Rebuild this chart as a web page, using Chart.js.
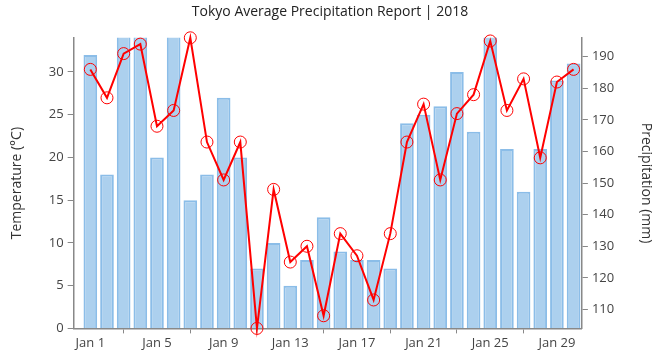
<!DOCTYPE html>
<html>
<head>
<meta charset="utf-8">
<script src="https://cdn.jsdelivr.net/npm/chart.js@4/dist/chart.umd.min.js"></script>
<style>
  html, body { margin: 0; padding: 0; background: #fff; }
  #wrap { width: 664px; height: 359px; }
</style>
</head>
<body>
<div id="wrap"><canvas id="chart"></canvas></div>
<script>
// days of January 2018
const days = [1,2,3,4,5,6,7,8,9,10,11,12,13,14,15,16,17,18,19,20,21,22,23,24,25,26,27,28,29,30];
// temperature (°C), bars on the left axis
const temperature = [32,18,36,35,20,37,15,18,27,20,7,10,5,8,13,9,8,8,7,24,25,26,30,23,36,21,16,21,29,31];
// precipitation (mm), line on the right axis
const precipitation = [186,177,191,194,168,173,196,163,151,163,104,148,125,130,108,134,127,113,134,163,175,151,172,178,195,173,183,158,182,186];
const tickDays = [1,5,9,13,17,21,25,29];

const font = "'Open Sans', 'Noto Sans', sans-serif";
const ctx = document.getElementById('chart');

const chart = new Chart(ctx, {
  data: {
    datasets: [{
      type: 'line',
      label: 'Precipitation',
      data: days.map((d, i) => ({x: d, y: precipitation[i]})),
      yAxisID: 'y2',
      borderColor: '#ff0000',
      borderWidth: 2,
      tension: 0,
      pointRadius: 6,
      pointHoverRadius: 6,
      pointBorderWidth: 1,
      pointBorderColor: '#ff0000',
      pointBackgroundColor: 'rgba(255,255,255,0)',
      clip: false,
      order: 0
    }, {
      type: 'bar',
      label: 'Temperature',
      data: days.map((d, i) => ({x: d, y: temperature[i]})),
      yAxisID: 'y',
      backgroundColor: '#acd0ee',
      borderColor: '#8bbde8',
      borderWidth: 2,
      barPercentage: 0.82,
      categoryPercentage: 1.0,
      order: 1
    }]
  },
  options: {
    responsive: true,
    maintainAspectRatio: false,
    animation: false,
    layout: { padding: { left: 4, right: 8, top: 0, bottom: 6 } },
    plugins: {
      legend: { display: false },
      tooltip: { enabled: false },
      title: {
        display: true,
        text: 'Tokyo Average Precipitation Report | 2018',
        color: '#222',
        font: { family: font, size: 14, weight: 'normal' },
        padding: { top: 4, bottom: 17 }
      }
    },
    scales: {
      x: {
        type: 'linear',
        min: 0,
        max: 30.5,
        offset: false,
        afterBuildTicks: (scale) => { scale.ticks = tickDays.map(v => ({value: v})); },
        ticks: {
          color: '#444',
          font: { family: font, size: 13 },
          callback: (v) => 'Jan ' + v,
          maxRotation: 0,
          autoSkip: false,
          padding: 2
        },
        grid: { drawOnChartArea: false, drawTicks: true, tickLength: 5, color: '#888' },
        border: { color: '#888', width: 1.5 }
      },
      y: {
        position: 'left',
        min: 0,
        max: 34,
        ticks: { stepSize: 5, includeBounds: false, color: '#444', font: { family: font, size: 13 }, padding: 4 },
        grid: { drawOnChartArea: false, tickLength: 6, color: '#888' },
        border: { color: '#888', width: 1.5 },
        title: { display: true, text: 'Temperature (°C)', color: '#333', font: { family: font, size: 14 }, padding: { top: 5, bottom: 19 } }
      },
      y2: {
        position: 'right',
        min: 104,
        max: 196,
        ticks: { stepSize: 10, includeBounds: false, color: '#444', font: { family: font, size: 13 }, padding: 4 },
        grid: { drawOnChartArea: false, tickLength: 6, color: '#888' },
        border: { color: '#888', width: 1.5 },
        title: { display: true, text: 'Precipitation (mm)', color: '#333', font: { family: font, size: 14 }, padding: { top: 2, bottom: 19 } }
      }
    }
  }
});
</script>
</body>
</html>
